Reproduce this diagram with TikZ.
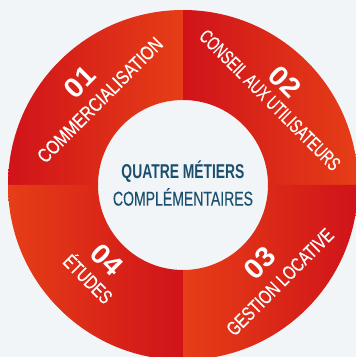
\documentclass[tikz,border=0pt]{standalone}
\usepackage{fontspec}
\setmainfont{Liberation Sans}
\newfontfamily\condf[FakeBold=0.6]{Liberation Sans}
\newfontfamily\condl[FakeBold=0.3]{Liberation Sans}
\usepackage{graphicx}
\usetikzlibrary{shadings,calc}
\definecolor{bgc}{HTML}{F2F5F7}
\definecolor{dred}{HTML}{D01319}
\definecolor{mred}{HTML}{E2191A}
\definecolor{orng}{HTML}{E63E17}
\definecolor{teal}{HTML}{1B4F6E}
\newcommand{\fitw}[2]{\resizebox{#1}{\height}{#2}}
\begin{document}
\begin{tikzpicture}[x=1pt,y=1pt,
  lab/.style={text=white,inner sep=0pt,font=\condf\fontsize{19.5}{19.5}\selectfont},
  num/.style={text=white,inner sep=0pt,font=\fontsize{28}{28}\selectfont\bfseries},
  ctr/.style={text=teal,inner sep=0pt}]
\fill[bgc] (0,0) rectangle (356,357);
\useasboundingbox (0,0) rectangle (356,357);
\clip (0,0) rectangle (356,357);
\coordinate (C) at (183,172);
% quadrants
\shade[left color=dred,right color=orng]
  ($(C)+(90:175)$) arc (90:180:175) -- ($(C)+(180:85)$) arc (180:90:85) -- cycle;
\shade[left color=dred,middle color=mred,right color=orng]
  ($(C)+(0:175)$) arc (0:90:175) -- ($(C)+(90:85)$) arc (90:0:85) -- cycle;
\shade[left color=orng,right color=dred]
  ($(C)+(180:175)$) arc (180:270:175) -- ($(C)+(270:85)$) arc (270:180:85) -- cycle;
\shade[left color=orng,middle color=mred,right color=dred]
  ($(C)+(270:175)$) arc (270:360:175) -- ($(C)+(0:85)$) arc (0:-90:85) -- cycle;
% labels
\node[num,rotate=45] (n1) at (80,275) {\fitw{32pt}{01}};
\node[lab,rotate=45] (t1) at (100,257) {\fitw{168pt}{COMMERCIALISATION}};
\node[num,rotate=-45] (n2) at (285,275) {\fitw{32pt}{02}};
\node[lab,rotate=-45] (t2) at (270,257) {\fitw{190pt}{CONSEIL AUX UTILISATEURS}};
\node[num,rotate=45] (n3) at (260,94) {\fitw{32pt}{03}};
\node[lab,rotate=45] (t3) at (280,75) {\fitw{142pt}{GESTION LOCATIVE}};
\node[num,rotate=-45] (n4) at (107,97) {\fitw{32pt}{04}};
\node[lab,rotate=-45] (t4) at (89,79) {\fitw{60pt}{ÉTUDES}};
% centre
\node[ctr,font=\fontsize{20}{20}\selectfont\bfseries] (c1) at (183,185) {\fitw{123pt}{QUATRE MÉTIERS}};
\node[ctr,font=\condl\fontsize{20}{20}\selectfont] (c2) at (183,160) {\fitw{140pt}{COMPLÉMENTAIRES}};
\end{tikzpicture}
\end{document}
